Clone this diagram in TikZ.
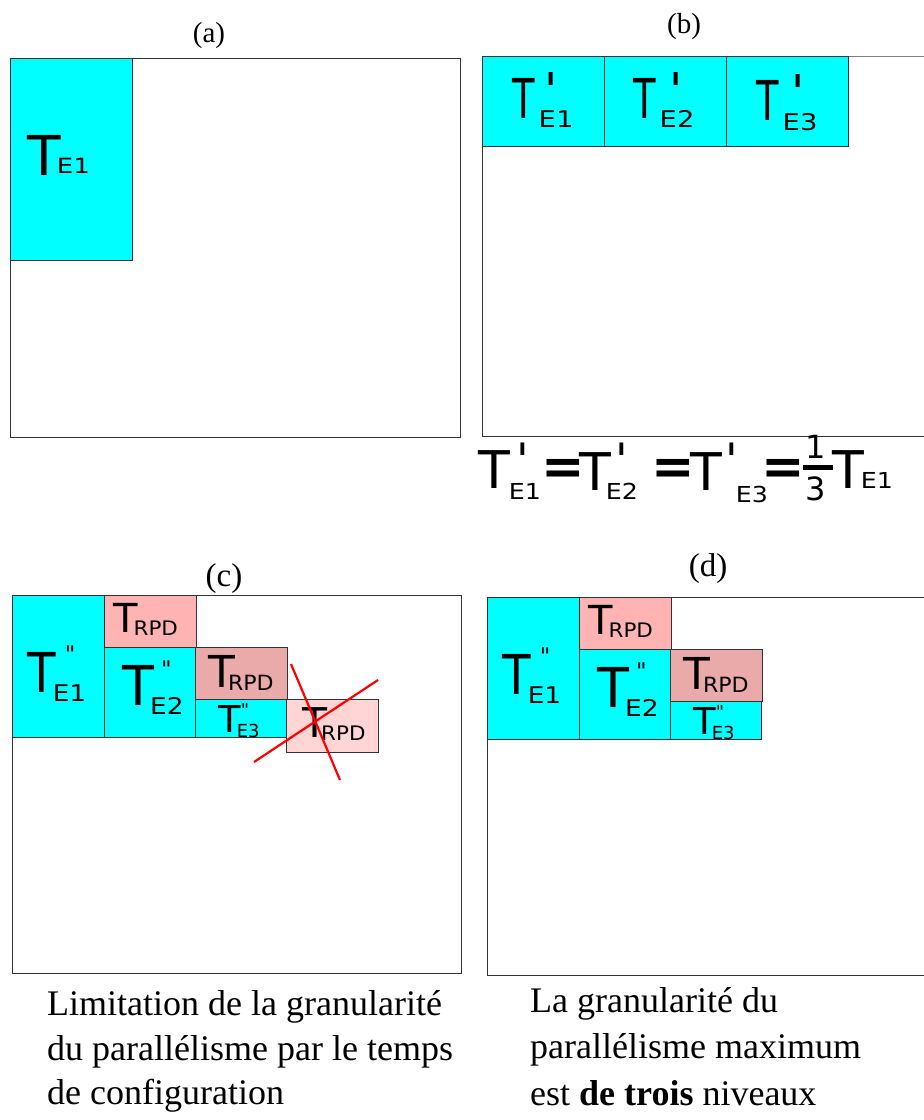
\documentclass[tikz,border=0pt]{standalone}
\usepackage{fontspec}
\setmainfont{Liberation Serif}
\newfontfamily\dv{DejaVu Sans}
\usepackage{graphicx}
\definecolor{cyanT}{HTML}{00FFFF}
\definecolor{pinkA}{HTML}{FFB3B3}
\definecolor{pinkB}{HTML}{EBAAAA}
\definecolor{pinkC}{HTML}{FFD5D5}
\definecolor{edge}{HTML}{333333}
\def\ssx{1.15}
% #1 T size, #2 T x-scale, #3 sub size, #4 sub, #5 sub raise, #6 sup, #7 sup dx, #8 sup raise, #9 sub kern
\newcommand\TL[9]{\mbox{\dv\fontsize{#1pt}{#1pt}\selectfont\scalebox{#2}[1]{T}%
\rlap{\hspace*{#7pt}\raisebox{#8pt}{#6}}%
\kern#9pt\fontsize{#3pt}{#3pt}\selectfont\raisebox{#5pt}{\scalebox{\ssx}[1]{#4}}}}
\newcommand\pr[2]{{\fontsize{#1pt}{#1pt}\selectfont#2}}
\newcommand\EQ{{\dv\bfseries\fontsize{52pt}{52pt}\selectfont\raisebox{4pt}{=}}}
\tikzset{
  frame/.style={draw=edge, line width=0.8pt},
  cellE/.style={draw=edge, line width=0.8pt, fill=cyanT},
  cellR/.style={draw=edge, line width=0.8pt, fill=pinkA},
  lab/.style={inner sep=0pt, anchor=base west},
  captxt/.style={inner sep=0pt, anchor=base, font=\fontsize{29pt}{29pt}\selectfont},
  captxtb/.style={inner sep=0pt, anchor=base, font=\fontsize{33pt}{33pt}\selectfont},
  txt/.style={inner sep=0pt, anchor=base west, font=\fontsize{36pt}{36pt}\selectfont},
  crossline/.style={draw=red, line width=2.2pt}
}
\newcommand\stackcd[1]{%
  \draw[cellE] (12,595) rectangle (104,737);
  \draw[cellR] (104,595) rectangle (196,647);
  \draw[cellE] (104,647) rectangle (195,737);
  \draw[cellR, fill=pinkB] (195,647) rectangle (287,699);
  \draw[cellE] (195,699) rectangle (286,737);
  \node[lab] (#1e1) at (27,692) {\TL{55}{0.85}{23}{E1}{-9}{\pr{23}{"}}{9}{30}{-3}};
  \node[lab] (#1r1) at (113,632) {\def\ssx{1.07}\TL{40}{1}{20}{RPD}{-3}{}{0}{0}{-4}};
  \node[lab] (#1e2) at (122,705) {\TL{55}{0.95}{23}{E2}{-9}{\pr{23}{"}}{7}{28}{-4}};
  \node[lab] (#1r2) at (208,687) {\def\ssx{1.05}\TL{44}{1}{21}{RPD}{-3}{}{0}{0}{-7}};
  \node[lab] (#1e3) at (218,732) {\def\ssx{1}\TL{37}{1}{18}{E3}{-5}{\pr{18}{"}}{0}{16}{-4}};
}
\begin{document}
\begin{tikzpicture}[x=1pt,y=-1pt]
\useasboundingbox (0,0) rectangle (924,1120);
% (a)
\node[captxt] (capa) at (209,42) {(a)};
\draw[frame] (10,58) rectangle (460,437);
\draw[cellE] (10,58) rectangle (132,260);
\node[lab] (a1) at (27,175) {\def\ssx{1.24}\TL{55}{1}{21}{E1}{2}{}{0}{0}{-4}};
% (b)
\node[captxt] (capb) at (684,33) {(b)};
\draw[frame, draw=gray] (924,56) -- (482,56);
\draw[frame] (482,56) -- (482,436) -- (924,436);
\draw[cellE] (482,56) rectangle (604,146);
\draw[cellE] (604,56) rectangle (726,146);
\draw[cellE] (726,56) rectangle (848,146);
\node[lab] (b1) at (512,118) {\def\ssx{1.19}\TL{55}{0.67}{23}{E1}{-9}{\pr{48}{'}}{10}{11}{4}};
\node[lab] (b2) at (633,118) {\def\ssx{1.19}\TL{55}{0.67}{23}{E2}{-9}{\pr{48}{'}}{14}{11}{4}};
\node[lab] (b3) at (756,120) {\def\ssx{1.19}\TL{55}{0.67}{23}{E3}{-10}{\pr{48}{'}}{13}{11}{4}};
% equation
\node[lab] (q1) at (478,488) {\TL{52}{1}{22}{E1}{-11}{\pr{46}{'}}{6.5}{11.5}{-1}};
\node[inner sep=0pt, anchor=base] (qe1) at (563,488) {\EQ};
\node[lab] (q2) at (579,490) {\TL{52}{1}{22}{E2}{-9}{\pr{46}{'}}{4.5}{13.5}{-5}};
\node[inner sep=0pt, anchor=base] (qe2) at (673,488) {\EQ};
\node[lab] (q3) at (690,490) {\TL{52}{1}{22}{E3}{-12}{\pr{46}{'}}{3.5}{13.5}{14}};
\node[inner sep=0pt, anchor=base] (qe3) at (783.5,488) {\EQ};
\node[inner sep=0pt, anchor=base] (qn) at (816,458) {\dv\fontsize{32pt}{32pt}\selectfont 1};
\fill (803,465) rectangle (833,470);
\node[inner sep=0pt, anchor=base] (qd) at (816,500) {\dv\fontsize{32pt}{32pt}\selectfont 3};
\node[lab] (q4) at (832,488) {\TL{52}{1}{22}{E1}{0}{}{0}{0}{-3}};
% (c)
\node[captxtb] (capc) at (224,586) {(c)};
\draw[frame] (12,595) rectangle (461,973);
\stackcd{c}
\draw[cellR, fill=pinkC] (286,699) rectangle (378,752);
\node[lab] (cr3) at (302,737) {\def\ssx{1.07}\TL{41}{1}{20}{RPD}{-3}{}{0}{0}{-6}};
\coordinate (x1a) at (254,762); \coordinate (x1b) at (378,680);
\coordinate (x2a) at (291,664); \coordinate (x2b) at (340,780);
\draw[crossline] (x1a) -- (x1b);
\draw[crossline] (x2a) -- (x2b);
% (d)
\node[captxtb] (capd) at (708,576) {(d)};
\draw[frame] (924,597) -- (487,597) -- (487,975) -- (924,975);
\begin{scope}[shift={(475,2)}]
\stackcd{d}
\end{scope}
% bottom texts
\node[txt] (l1) at (47,1015) {Limitation de la granularité};
\node[txt] (l2) at (47,1060) {du parallélisme par le temps};
\node[txt] (l3) at (47,1104) {de configuration};
\node[txt] (r1) at (530,1012) {La granularité du};
\node[txt] (r2) at (530,1058) {parallélisme maximum};
\node[txt] (r3) at (530,1105) {est \textbf{de trois} niveaux};
\end{tikzpicture}
\end{document}
